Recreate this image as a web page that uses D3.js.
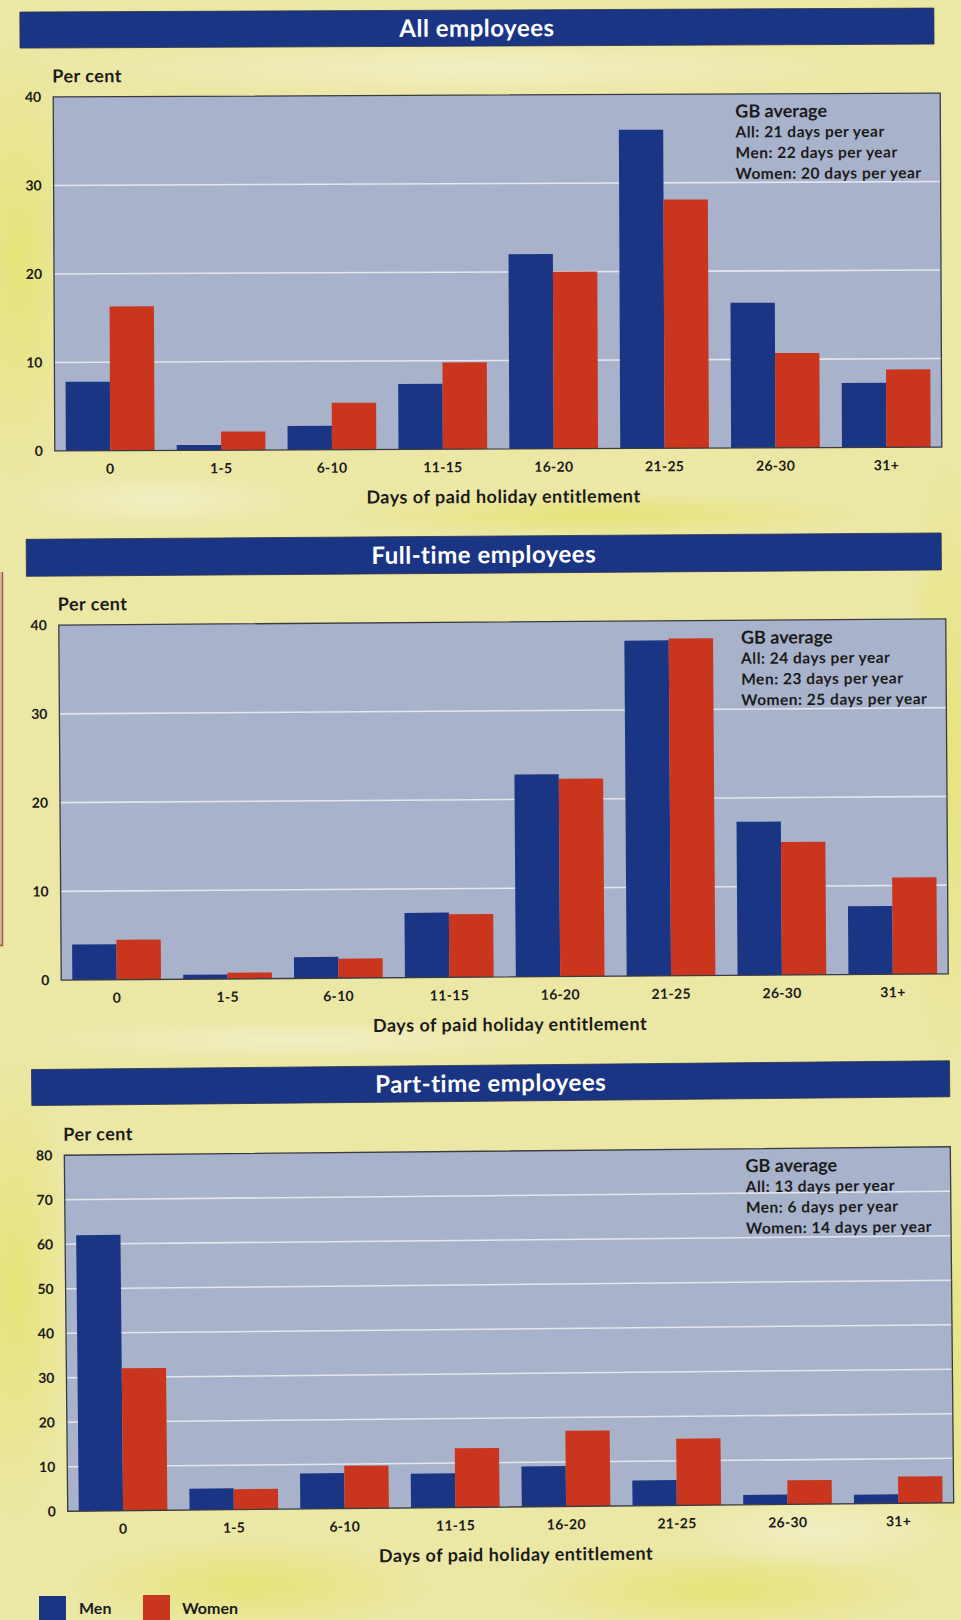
<!DOCTYPE html>
<html>
<head>
<meta charset="utf-8">
<script src="https://cdn.jsdelivr.net/npm/d3@7"></script>
<style>
  html, body { margin: 0; padding: 0; background: #ebe7a6; }
  svg { display: block; }
  text { font-family: Lato, "Open Sans", sans-serif; font-weight: 700; fill: #1b1b1b; }
</style>
</head>
<body>
<svg id="chart" width="961" height="1620"></svg>
<script>
// ---- Data -------------------------------------------------------------
const categories = ["0", "1-5", "6-10", "11-15", "16-20", "21-25", "26-30", "31+"];
const seriesNames = ["Men", "Women"];

// Per cent of employees by days of paid holiday entitlement
const allMen       = [7.8, 0.6, 2.7, 7.4, 22.0, 36.0, 16.4, 7.3];
const allWomen     = [16.3, 2.1, 5.3, 9.8, 20.0, 28.1, 10.7, 8.8];
const fullMen      = [4.0, 0.5, 2.4, 7.3, 22.8, 37.8, 17.3, 7.7];
const fullWomen    = [4.5, 0.7, 2.2, 7.1, 22.3, 38.0, 15.0, 10.9];
const partMen      = [62.0, 4.8, 8.0, 7.7, 9.1, 5.7, 2.2, 2.0];
const partWomen    = [32.0, 4.6, 9.6, 13.3, 17.0, 15.0, 5.4, 6.0];

const ticksAll  = [0, 10, 20, 30, 40];
const ticksFull = [0, 10, 20, 30, 40];
const ticksPart = [0, 10, 20, 30, 40, 50, 60, 70, 80];

const panelTitles = ["All employees", "Full-time employees", "Part-time employees"];
const notesHeading = "GB average";
const notesAll  = ["All: 21 days per year", "Men: 22 days per year", "Women: 20 days per year"];
const notesFull = ["All: 24 days per year", "Men: 23 days per year", "Women: 25 days per year"];
const notesPart = ["All: 13 days per year", "Men: 6 days per year", "Women: 14 days per year"];

const yAxisLabel = "Per cent";
const xAxisLabel = "Days of paid holiday entitlement";

// ---- Styling ----------------------------------------------------------
const NAVY = "#1b3585";
const RED = "#c9361d";
const PLOT_BG = "#a9b2cb";
const GRID = "#e4e6ee";
const colour = d3.scaleOrdinal().domain(seriesNames).range([NAVY, RED]);

const svg = d3.select("#chart");
const W = 961, H = 1620;

// ---- Paper background -------------------------------------------------
const defs = svg.append("defs");
function spot(id, c, op) {
  const g = defs.append("radialGradient").attr("id", id);
  g.append("stop").attr("offset", "0%").attr("stop-color", c).attr("stop-opacity", op);
  g.append("stop").attr("offset", "100%").attr("stop-color", c).attr("stop-opacity", 0);
}
spot("bright", "#e3e36a", 0.75);
spot("pale", "#f3f1cc", 0.8);

svg.append("rect").attr("width", W).attr("height", H).attr("fill", "#ebe7a4");
const paper = svg.append("g");
[
  [18, 260, 60, 220, "bright"], [15, 1290, 55, 230, "bright"], [945, 760, 40, 300, "bright"],
  [945, 1350, 35, 200, "bright"], [250, 1585, 180, 45, "bright"], [720, 1590, 200, 40, "bright"],
  [600, 515, 260, 22, "bright"], [480, 68, 420, 30, "pale"], [300, 1040, 300, 22, "pale"],
  [160, 500, 160, 30, "pale"], [820, 1530, 150, 40, "pale"]
].forEach(([cx, cy, rx, ry, id]) => {
  paper.append("ellipse").attr("cx", cx).attr("cy", cy).attr("rx", rx).attr("ry", ry)
    .attr("fill", `url(#${id})`);
});

// Edge of the neighbouring page frame on the left
svg.append("rect").attr("x", 0).attr("y", 572).attr("width", 2).attr("height", 373).attr("fill", "#d9b49c");
svg.append("path").attr("d", "M2.5,572 V945.5 H0").attr("fill", "none")
  .attr("stroke", "#9a5a47").attr("stroke-width", 1.4);

// ---- Panels -----------------------------------------------------------
const panels = [
  { title: panelTitles[0], men: allMen, women: allWomen, ticks: ticksAll, notes: notesAll, tilt: -0.25,
    bar: { x0: 21, x1: 935, y0: 10, y1: 46 }, plot: { l: 54, r: 941, t: 95, b: 449 } },
  { title: panelTitles[1], men: fullMen, women: fullWomen, ticks: ticksFull, notes: notesFull, tilt: -0.4,
    bar: { x0: 28, x1: 943, y0: 536, y1: 573 }, plot: { l: 60, r: 947, t: 622, b: 977 } },
  { title: panelTitles[2], men: partMen, women: partWomen, ticks: ticksPart, notes: notesPart, tilt: -0.55,
    bar: { x0: 34, x1: 952, y0: 1065, y1: 1101 }, plot: { l: 66, r: 952, t: 1151, b: 1507 } }
];

panels.forEach(p => {
  const { l, r, t, b } = p.plot;
  const cx = (l + r) / 2, cy = (t + b) / 2;
  const g = svg.append("g").attr("transform", `rotate(${p.tilt}, ${cx}, ${cy})`);

  // Title banner
  g.append("rect").attr("x", p.bar.x0).attr("y", p.bar.y0)
    .attr("width", p.bar.x1 - p.bar.x0).attr("height", p.bar.y1 - p.bar.y0)
    .attr("fill", NAVY).attr("stroke", "#2b2f4a").attr("stroke-width", 0.8);
  g.append("text").attr("x", (p.bar.x0 + p.bar.x1) / 2).attr("y", (p.bar.y0 + p.bar.y1) / 2 - 1)
    .attr("text-anchor", "middle").attr("dominant-baseline", "central")
    .style("font-size", "24px").style("letter-spacing", "0.5px").style("fill", "#ffffff").text(p.title);

  // Scales
  const x0 = d3.scaleBand().domain(categories).range([l, r]).paddingInner(0.2).paddingOuter(0.1);
  const x1 = d3.scaleBand().domain(seriesNames).range([0, x0.bandwidth()]);
  const y = d3.scaleLinear().domain([0, d3.max(p.ticks)]).range([b, t]);

  // Plot area and gridlines
  g.append("rect").attr("x", l).attr("y", t).attr("width", r - l).attr("height", b - t).attr("fill", PLOT_BG);
  g.append("g").selectAll("line")
    .data(p.ticks.filter(v => v > 0 && v < d3.max(p.ticks)))
    .join("line")
    .attr("x1", l).attr("x2", r).attr("y1", d => y(d)).attr("y2", d => y(d))
    .attr("stroke", GRID).attr("stroke-width", 1.6);

  // Bars
  const rows = categories.map((c, i) => ({ cat: c, vals: [
    { key: "Men", value: p.men[i] }, { key: "Women", value: p.women[i] }] }));
  g.append("g").selectAll("g").data(rows).join("g")
    .attr("transform", d => `translate(${x0(d.cat)},0)`)
    .selectAll("rect").data(d => d.vals).join("rect")
    .attr("x", d => x1(d.key)).attr("width", x1.bandwidth())
    .attr("y", d => y(d.value)).attr("height", d => y(0) - y(d.value))
    .attr("fill", d => colour(d.key));

  // Frame
  g.append("rect").attr("x", l).attr("y", t).attr("width", r - l).attr("height", b - t)
    .attr("fill", "none").attr("stroke", "#3b3b45").attr("stroke-width", 1.3);

  // Axes
  const yAxis = g.append("g").attr("transform", `translate(${l},0)`)
    .call(d3.axisLeft(y).tickValues(p.ticks).tickSize(0).tickPadding(12).tickFormat(d3.format("d")));
  yAxis.select(".domain").remove();
  yAxis.selectAll("text").style("font-size", "14px").style("font-family", "Lato, sans-serif")
    .style("font-weight", 700).attr("fill", "#1b1b1b");

  const xAxis = g.append("g").attr("transform", `translate(0,${b})`)
    .call(d3.axisBottom(x0).tickSize(0).tickPadding(13));
  xAxis.select(".domain").remove();
  xAxis.selectAll("text").style("font-size", "14px").style("font-family", "Lato, sans-serif")
    .style("font-weight", 700).style("letter-spacing", "0.3px").attr("fill", "#1b1b1b");

  // Axis titles
  g.append("text").attr("x", l - 1).attr("y", t - 21.5).attr("dominant-baseline", "central")
    .style("font-size", "18px").style("letter-spacing", "0.5px").text(yAxisLabel);
  g.append("text").attr("x", cx + 5).attr("y", b + 47).attr("text-anchor", "middle")
    .attr("dominant-baseline", "central").style("font-size", "18px").style("letter-spacing", "0.5px")
    .text(xAxisLabel);

  // GB average note
  const nx = r - 205;
  g.append("text").attr("x", nx).attr("y", t + 16.5).attr("dominant-baseline", "central")
    .style("font-size", "18px").text(notesHeading);
  g.selectAll("text.note").data(p.notes).join("text").attr("class", "note")
    .attr("x", nx).attr("y", (d, i) => t + 37.5 + i * 20.8).attr("dominant-baseline", "central")
    .style("font-size", "15.5px").style("letter-spacing", "0.5px").text(d => d);
});

// ---- Legend -----------------------------------------------------------
const legend = svg.append("g");
const legendItems = [
  { key: "Men", sx: 39, sy: 1596, tx: 79 },
  { key: "Women", sx: 143, sy: 1595, tx: 182 }
];
legendItems.forEach(d => {
  legend.append("rect").attr("x", d.sx).attr("y", d.sy).attr("width", 27).attr("height", 25)
    .attr("fill", colour(d.key));
  legend.append("text").attr("x", d.tx).attr("y", 1607).attr("dominant-baseline", "central")
    .style("font-size", "16px").text(d.key);
});
</script>
</body>
</html>
